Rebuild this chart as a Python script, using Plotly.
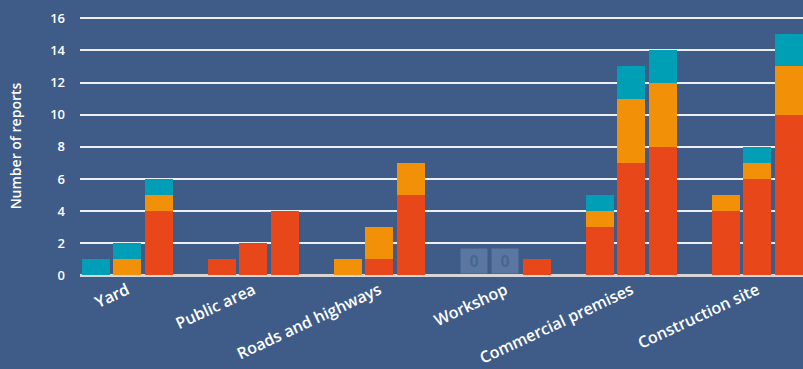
import plotly.graph_objects as go

categories = ["Yard", "Public area", "Roads and highways", "Workshop",
              "Commercial premises", "Construction site"]
periods = 3  # three bars per category

# values per category, one entry per bar (left to right)
red_values = [[0, 0, 4], [1, 2, 4], [0, 1, 5], [0, 0, 1], [3, 7, 8], [4, 6, 10]]
orange_values = [[0, 1, 1], [0, 0, 0], [1, 2, 2], [0, 0, 0], [1, 4, 4], [1, 1, 3]]
teal_values = [[1, 1, 1], [0, 0, 0], [0, 0, 0], [0, 0, 0], [1, 2, 2], [0, 1, 2]]

y_ticks = [0, 2, 4, 6, 8, 10, 12, 14, 16]

BG = "#3e5c87"
FONT = "Open Sans"

slot = periods + 1
xs, red, orange, teal = [], [], [], []
for i in range(len(categories)):
    for j in range(periods):
        xs.append(i * slot + j)
        red.append(red_values[i][j])
        orange.append(orange_values[i][j])
        teal.append(teal_values[i][j])

fig = go.Figure()
for vals, color, name in [(red, "#e8471a", "Red"), (orange, "#f29108", "Orange"),
                          (teal, "#009fb5", "Teal")]:
    fig.add_bar(x=xs, y=vals, marker_color=color, marker_line_width=0,
                name=name, width=0.88, showlegend=False)

# zero-value labels (shown for the empty Workshop bars)
for x, r, o, t in zip(xs, red, orange, teal):
    if r + o + t == 0 and x // slot == 3:
        fig.add_annotation(x=x, y=0, text="<b>0</b>", showarrow=False,
                           yanchor="bottom", width=24, height=22,
                           bgcolor="#5b77a1",
                           font=dict(family=FONT, size=16, color="#476792"),
                           yshift=1)

fig.update_layout(
    barmode="stack",
    width=803, height=369,
    paper_bgcolor=BG, plot_bgcolor=BG,
    margin=dict(l=80, r=0, t=15, b=92),
    font=dict(family=FONT, color="white"),
)
fig.update_xaxes(
    range=[-0.5, 22.45],
    tickvals=[i * slot + 1 for i in range(len(categories))],
    ticktext=categories, tickangle=-25,
    tickfont=dict(size=16, weight=600),
    showgrid=False, zeroline=False, ticks="", automargin=False,
)
fig.update_yaxes(
    range=[-0.1, 16.2], tickvals=y_ticks,
    tickfont=dict(size=13, weight=600),
    gridcolor="rgba(255,255,255,0.9)", gridwidth=2,
    zeroline=True, zerolinecolor="#d6d6d6", zerolinewidth=3,
    title=dict(text="Number of reports", font=dict(size=14, weight=600), standoff=25),
    ticks="", ticklen=0, ticklabelstandoff=14, automargin=False,
)

fig.write_html("out.html", config={"displayModeBar": False})

# drop the default page margin so the figure fills the window
with open("out.html", encoding="utf-8") as f:
    page = f.read()
page = page.replace("<head>", "<head><style>body{margin:0;}</style>", 1)
with open("out.html", "w", encoding="utf-8") as f:
    f.write(page)
